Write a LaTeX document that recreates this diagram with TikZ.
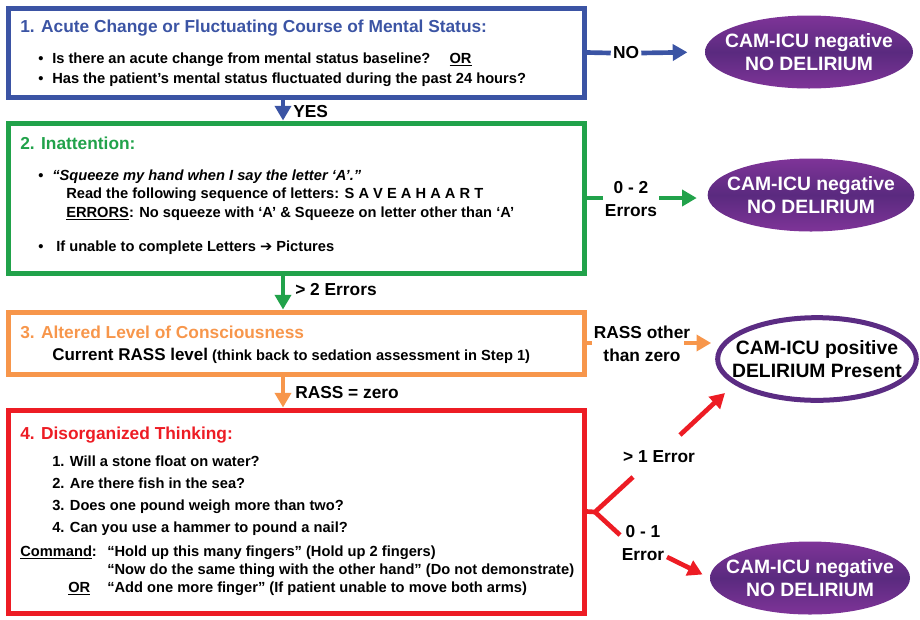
\documentclass[tikz,border=0pt]{standalone}
\usepackage{fontspec}
\setmainfont{Liberation Sans}
\newfontfamily\arrowfont{DejaVu Sans}
\usetikzlibrary{arrows.meta,fit,shapes.geometric}

\begin{document}
\begin{tikzpicture}[x=0.75pt,y=-0.75pt,
  mybox/.style={draw=#1,line width=3.75pt,inner sep=0pt},
  mytitle/.style={anchor=base west,inner sep=0pt,text=#1,font=\bfseries\fontsize{13}{15}\selectfont},
  mytext/.style={anchor=base west,inner sep=0pt,font=\bfseries\fontsize{11}{13}\selectfont},
  myoval/.style={ellipse,inner xsep=-12pt,inner ysep=0pt,align=center,font=\bfseries\fontsize{14.5}{17}\selectfont},
  myfill/.style={top color=ovaltop,bottom color=ovaltop,middle color=ovalmid,text=white},
  mylabel/.style={inner sep=1.5pt,align=center,font=\bfseries\fontsize{13}{17}\selectfont},
  myline/.style={draw=#1,line width=3.5pt,line join=round},
  myarrow/.style={draw=#1,line width=3.5pt,-{Triangle[width=12pt,length=11pt]}}]
\definecolor{camblue}{HTML}{3B54A4}
\definecolor{camgreen}{HTML}{21A24A}
\definecolor{camorange}{HTML}{F7964B}
\definecolor{camred}{HTML}{ED1C24}
\definecolor{camviolet}{HTML}{5B2C83}
\definecolor{ovaltop}{HTML}{7E3498}
\definecolor{ovalmid}{HTML}{5A2A7F}
\useasboundingbox (0,0) rectangle (920,619);

% the four steps
\node[mybox=camblue,fit={(8,8) (584,97)}] (step1) {};
\node[mybox=camgreen,fit={(8,123) (584,273)}] (step2) {};
\node[mybox=camorange,fit={(8,312) (584,374)}] (step3) {};
\node[mybox=camred,fit={(8,410) (584,613)}] (step4) {};

% step 1
\node[mytitle=camblue] (title1) at (20,32) {1. Acute Change or Fluctuating Course of Mental Status:};
\node[mytext] (dot1a) at (38,63) {•};
\node[mytext] (txt1a) at (52,63) {Is there an acute change from mental status baseline?\hspace{1.3em}\underline{OR}};
\node[mytext] (dot1b) at (38,83) {•};
\node[mytext] (txt1b) at (52,83) {Has the patient’s mental status fluctuated during the past 24 hours?};

% step 2
\node[mytitle=camgreen] (title2) at (20,149) {2. Inattention:};
\node[mytext] (dot2a) at (38,180) {•};
\node[mytext] (txt2a) at (52,180) {\itshape “Squeeze my hand when I say the letter ‘A’.”};
\node[mytext] (txt2b) at (66,198) {Read the following sequence of letters: S A V E A H A A R T};
\node[mytext] (txt2c) at (66,217) {\underline{ERRORS}: No squeeze with ‘A’ \& Squeeze on letter other than ‘A’};
\node[mytext] (dot2b) at (38,251) {•};
\node[mytext] (txt2d) at (56,251) {If unable to complete Letters {\arrowfont ➔} Pictures};

% step 3
\node[mytitle=camorange] (title3) at (20,338) {3. Altered Level of Consciousness};
\node[mytext] (txt3a) at (52,360) {{\fontsize{12.75}{15}\selectfont Current RASS level} (think back to sedation assessment in Step 1)};

% step 4
\node[mytitle=camred] (title4) at (20,439) {4. Disorganized Thinking:};
\foreach \n/\y/\q in {1/466/Will a stone float on water?,
                      2/488/Are there fish in the sea?,
                      3/510/Does one pound weigh more than two?,
                      4/532/Can you use a hammer to pound a nail?}
  {\node[mytext] (q\n) at (52,\y) {\n. \q};}
\node[mytext] (cmd) at (20,556) {\underline{Command}:};
\node[mytext] (txt4a) at (107,556) {“Hold up this many fingers” (Hold up 2 fingers)};
\node[mytext] (txt4b) at (107,574) {“Now do the same thing with the other hand” (Do not demonstrate)};
\node[mytext] (or4) at (68,592) {\underline{OR}};
\node[mytext] (txt4c) at (107,592) {“Add one more finger” (If patient unable to move both arms)};

% outcomes
\node[myoval,myfill,minimum width=156pt,minimum height=54.75pt] (neg1) at (809,52) {CAM-ICU negative\\NO DELIRIUM};
\node[myoval,myfill,minimum width=155pt,minimum height=54.75pt] (neg2) at (811,195) {CAM-ICU negative\\NO DELIRIUM};
\node[myoval,draw=camviolet,line width=3.75pt,fill=white,minimum width=149pt,minimum height=62pt] (pos) at (817,359) {CAM-ICU positive\\DELIRIUM Present};
\node[myoval,myfill,minimum width=150pt,minimum height=54.75pt] (neg3) at (810,578) {CAM-ICU negative\\NO DELIRIUM};

% labels on the connectors
\node[mylabel,anchor=west] (yes) at (291,112) {YES};
\node[mylabel,anchor=west] (err2) at (293,290) {> 2 Errors};
\node[mylabel,anchor=west] (zero) at (293,393) {RASS = zero};
\node[mylabel] (no) at (626,53) {NO};
\node[mylabel] (err02) at (631,199) {0 - 2\\Errors};
\node[mylabel] (rassother) at (642,344) {RASS other\\than zero};
\node[mylabel] (err1) at (659,457) {> 1 Error};
\node[mylabel] (err01) at (643,543) {0 - 1\\Error};

% connectors
\draw[myarrow=camblue] ([xshift=-9.75pt]step1.south) -- ([xshift=-9.75pt]step2.north);
\draw[myarrow=camgreen] ([xshift=-9.75pt]step2.south) -- ([xshift=-9.75pt]step3.north);
\draw[myarrow=camorange] ([xshift=-9.75pt]step3.south) -- ([xshift=-9.75pt]step4.north);

\draw[myline=camblue] (step1.east) -- (no.west);
\draw[myarrow=camblue,shorten >=13pt] (no.east) -- (neg1.west);
\draw[myline=camgreen] (step2.east) -- (step2.east -| err02.west);
\draw[myarrow=camgreen,shorten >=8pt] (err02.east |- step2.east) -- (neg2.west |- step2.east);
\draw[myline=camorange] (step3.east) -- (step3.east -| rassother.west);
\draw[myarrow=camorange,shorten <=-6pt,shorten >=3pt] (rassother.east |- step3.east) -- (pos.west |- step3.east);

\coordinate (fork) at (595,512);
\coordinate (up1) at (633,477);
\coordinate (dn1) at (620,535);
\coordinate (up2) at (680,435);
\coordinate (uptip) at (725,393);
\coordinate (dn2) at (667,557);
\draw[myline=camred] (step4.east) -- (fork) -- (up1);
\draw[myline=camred] (fork) -- (dn1);
\draw[myarrow=camred] (up2) -- (uptip);
\draw[myarrow=camred,shorten >=6pt] (dn2) -- (neg3.west);
\end{tikzpicture}
\end{document}
